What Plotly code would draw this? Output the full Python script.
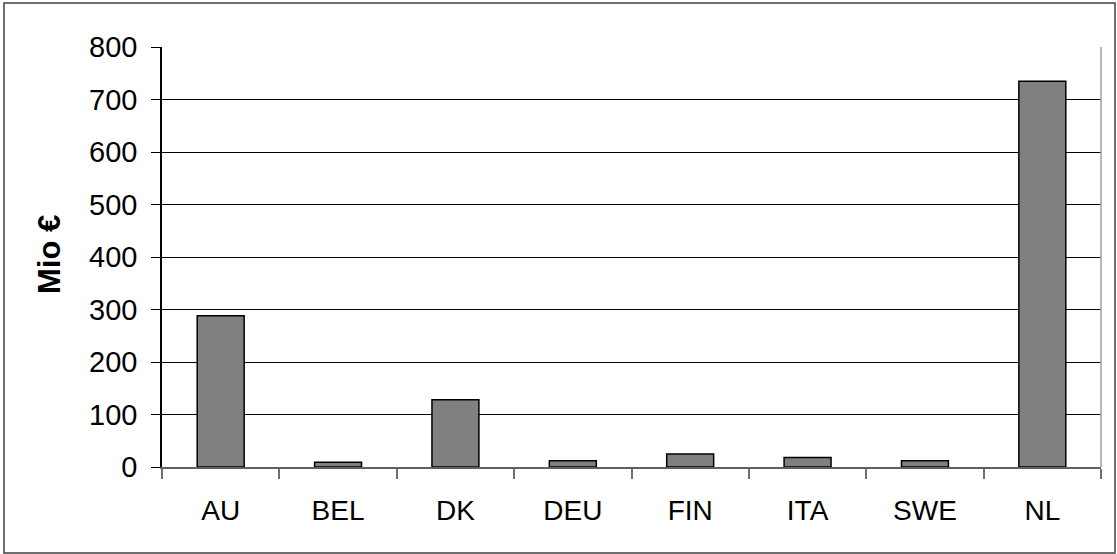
import plotly.graph_objects as go

categories = ["AU", "BEL", "DK", "DEU", "FIN", "ITA", "SWE", "NL"]
values = [288, 9, 128, 12, 25, 18, 12, 735]
y_ticks = [0, 100, 200, 300, 400, 500, 600, 700, 800]
y_title = "Mio €"

W, H = 1117, 554
L, R, T, B = 162, 16, 47, 87
pw, ph = W - L - R, H - T - B

def px_x(x):
    return (x - L) / pw

def px_y(y):
    return (H - B - y) / ph

fig = go.Figure(go.Bar(
    x=categories, y=values,
    marker=dict(color="#808080", line=dict(color="black", width=1.5)),
))

fig.update_layout(
    width=W, height=H, autosize=False,
    margin=dict(l=L, r=R, t=T, b=B),
    paper_bgcolor="white", plot_bgcolor="white",
    bargap=0.6, showlegend=False,
    font=dict(family="Liberation Sans, Arial, sans-serif", color="black", size=28),
)
fig.update_xaxes(
    type="category", showline=True, linecolor="#606060", linewidth=1.5,
    ticks="outside", tickson="boundaries", ticklen=10, tickcolor="#707070", tickwidth=1.5,
    ticklabelstandoff=18, tickfont=dict(size=28), showgrid=False,
)
fig.update_yaxes(
    range=[0, 800], tickvals=y_ticks, showgrid=True, gridcolor="black", gridwidth=1,
    showline=True, linecolor="black", linewidth=1.5,
    ticks="outside", ticklen=9, tickcolor="black", tickwidth=1,
    ticklabelstandoff=8, tickfont=dict(size=29), zeroline=False,
)
fig.add_annotation(
    text="<b>" + y_title + "</b>", textangle=-90, showarrow=False,
    xref="paper", yref="paper", x=px_x(49), y=px_y(255),
    xanchor="center", yanchor="middle", font=dict(size=31),
)
# right plot-area edge
fig.add_shape(type="line", xref="paper", yref="paper", x0=1, x1=1, y0=0, y1=1,
              line=dict(color="#a0a0a0", width=1.5))
# outer chart border
fig.add_shape(type="rect", xref="paper", yref="paper",
              x0=px_x(4), x1=px_x(1115), y0=px_y(553), y1=px_y(3),
              line=dict(color="#404040", width=1.5))

fig.write_html("out.html", config={"displayModeBar": False},
               post_script="document.body.style.margin='0';")
